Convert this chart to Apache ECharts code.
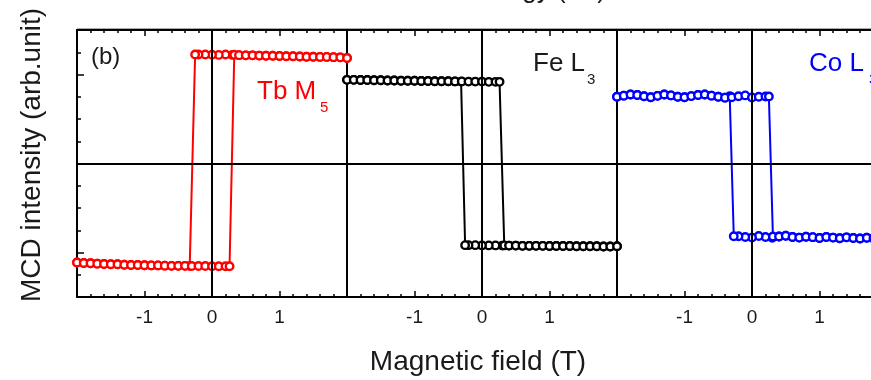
<!DOCTYPE html>
<html>
<head>
<meta charset="utf-8">
<script src="https://cdn.jsdelivr.net/npm/echarts@6/dist/echarts.min.js"></script>
<style>
html,body{margin:0;padding:0;background:#fff;}
#chart{width:871px;height:380px;}
</style>
</head>
<body>
<div id="chart"></div>
<script>
// Magnetic field grid (T)
const field = [-2.0,-1.9,-1.8,-1.7,-1.6,-1.5,-1.4,-1.3,-1.2,-1.1,-1.0,-0.9,-0.8,-0.7,-0.6,-0.5,-0.4,-0.3,-0.2,-0.1,0.0,0.1,0.2,0.3,0.4,0.5,0.6,0.7,0.8,0.9,1.0,1.1,1.2,1.3,1.4,1.5,1.6,1.7,1.8,1.9,2.0];
const xTicks = [-1, 0, 1];

// Tb M5: branch reached at positive saturation / negative saturation
const tbPos = [null,null,null,null,null,null,null,null,null,null,null,null,null,null,null,null,null,null,
  4.90,4.90,4.89,4.88,4.90,4.88,4.87,4.86,4.86,4.85,4.84,4.84,4.83,4.82,4.82,4.81,4.80,4.80,4.79,4.79,4.78,4.77,4.74];
const tbNeg = [-4.45,-4.47,-4.48,-4.50,-4.52,-4.53,-4.53,-4.55,-4.56,-4.56,-4.57,-4.58,-4.58,-4.59,-4.60,-4.60,-4.60,-4.61,-4.61,-4.61,-4.62,-4.62,-4.62,
  null,null,null,null,null,null,null,null,null,null,null,null,null,null,null,null,null,null];
const tbSwitchDown = [[-0.25, 4.90], [-0.33, -4.61]];
const tbSwitchUp = [[0.26, -4.62], [0.33, 4.89]];

// Fe L3
const fePos = [null,null,null,null,null,null,null,null,null,null,null,null,null,null,null,null,null,null,
  -3.67,-3.67,-3.68,-3.68,-3.68,-3.69,-3.69,-3.69,-3.70,-3.70,-3.70,-3.70,-3.71,-3.71,-3.71,-3.71,-3.72,-3.72,-3.72,-3.72,-3.73,-3.73,-3.72];
const feNeg = [3.76,3.76,3.75,3.75,3.74,3.74,3.73,3.73,3.72,3.72,3.72,3.71,3.71,3.70,3.70,3.70,3.69,3.69,3.68,3.68,3.68,3.67,3.67,
  null,null,null,null,null,null,null,null,null,null,null,null,null,null,null,null,null,null];
const feSwitchDown = [[-0.25, -3.67], [-0.31, 3.68]];
const feSwitchUp = [[0.26, 3.67], [0.33, -3.68]];

// Co L3
const coPos = [null,null,null,null,null,null,null,null,null,null,null,null,null,null,null,null,null,null,
  -3.27,-3.30,-3.33,-3.26,-3.30,-3.34,-3.28,-3.25,-3.30,-3.33,-3.29,-3.31,-3.35,-3.30,-3.33,-3.36,-3.32,-3.35,-3.37,-3.34,-3.36,-3.38,-3.36];
const coNeg = [3.00,3.05,3.10,3.08,3.02,2.98,3.04,3.10,3.06,3.00,2.98,3.03,3.08,3.10,3.05,3.00,2.96,2.98,3.02,3.06,2.97,3.00,3.01,
  null,null,null,null,null,null,null,null,null,null,null,null,null,null,null,null,null,null];
const coSwitchDown = [[-0.27, -3.27], [-0.33, 3.02]];
const coSwitchUp = [[0.25, 3.01], [0.31, -3.28]];

const panelNames = ['Tb M5', 'Fe L3', 'Co L3'];
const panelColors = ['#ff0000', '#000000', '#0000ff'];

function loop(pos, neg, swDown, swUp) {
  const pts = [];
  for (let i = field.length - 1; i >= 0; i--) if (pos[i] !== null && field[i] > swDown[0][0]) pts.push([field[i], pos[i]]);
  pts.push(swDown[0], swDown[1]);
  for (let i = field.length - 1; i >= 0; i--) if (neg[i] !== null && field[i] < swDown[1][0]) pts.push([field[i], neg[i]]);
  for (let i = 0; i < field.length; i++) if (neg[i] !== null && field[i] < swUp[0][0]) pts.push([field[i], neg[i]]);
  pts.push(swUp[0], swUp[1]);
  for (let i = 0; i < field.length; i++) if (pos[i] !== null && field[i] > swUp[1][0]) pts.push([field[i], pos[i]]);
  return pts;
}

const loops = [
  loop(tbPos, tbNeg, tbSwitchDown, tbSwitchUp),
  loop(fePos, feNeg, feSwitchDown, feSwitchUp),
  loop(coPos, coNeg, coSwitchDown, coSwitchUp)
];

const FONT = 'Liberation Sans, Arial, Helvetica, sans-serif';
const TXT = '#1a1a1a';
const frameLine = {onZero: false, lineStyle: {color: '#000', width: 2}};

const grids = [], xAxes = [], yAxes = [], series = [];
for (let i = 0; i < 3; i++) {
  grids.push({left: 77 + 270 * i, top: 30, width: 270, height: 267, outerBoundsMode: 'none', containLabel: false});
  const xBase = {
    gridIndex: i, type: 'value', min: -2, max: 2, interval: 1,
    axisLine: frameLine,
    axisTick: {inside: true, length: 6, lineStyle: {color: '#000', width: 1.5}},
    minorTick: {show: true, splitNumber: 5, length: 3, lineStyle: {color: '#000', width: 1.5}},
    splitLine: {show: false}, minorSplitLine: {show: false}
  };
  xAxes.push(Object.assign({}, xBase, {position: 'bottom',
    axisLabel: {customValues: xTicks, fontSize: 19, color: TXT, fontFamily: FONT, margin: 11}}));
  xAxes.push(Object.assign({}, xBase, {position: 'top', axisLabel: {show: false}}));
  yAxes.push({gridIndex: i, type: 'value', min: -6, max: 6, interval: 1, position: 'left',
    axisLine: frameLine,
    axisTick: {show: i === 0, inside: true, length: 4, lineStyle: {color: '#000', width: 1.5}},
    axisLabel: {show: false}, splitLine: {show: false}});
  yAxes.push({gridIndex: i, type: 'value', min: -6, max: 6, interval: 1, position: 'right',
    axisLine: frameLine, axisTick: {show: false}, axisLabel: {show: false}, splitLine: {show: false}});
  series.push({
    name: panelNames[i], type: 'line', xAxisIndex: 2 * i, yAxisIndex: 2 * i,
    data: loops[i], symbol: 'circle', symbolSize: 7.5, showAllSymbol: true,
    itemStyle: {color: '#fff', borderColor: panelColors[i], borderWidth: 2.4},
    lineStyle: {color: panelColors[i], width: 2},
    emphasis: {disabled: true}, clip: true, z: 2,
    markLine: {silent: true, symbol: ['none', 'none'], label: {show: false},
      lineStyle: {color: '#000', width: 2, type: 'solid'},
      emphasis: {disabled: true},
      data: [{xAxis: 0}, {yAxis: 0}], z: 5}
  });
}
// major y ticks on the left axis of panel (b)
yAxes.push({gridIndex: 0, type: 'value', min: -6, max: 6, position: 'left',
  axisLine: {show: false, onZero: false},
  axisTick: {inside: true, length: 7, customValues: [-4, 0, 4], lineStyle: {color: '#000', width: 1.5}},
  axisLabel: {show: false}, splitLine: {show: false}});

const chart = echarts.init(document.getElementById('chart'), null, {renderer: 'canvas'});
chart.setOption({
  animation: false,
  backgroundColor: '#fff',
  grid: grids, xAxis: xAxes, yAxis: yAxes, series: series,
  graphic: [
    {type: 'line', shape: {x1: 77, y1: 28.5, x2: 871, y2: 28.5}, style: {stroke: '#aaa', lineWidth: 1}, z: 0},
    {type: 'text', x: 606, y: 4, style: {text: 'Photon energy (eV)', fontSize: 26, fontFamily: FONT, fill: TXT, align: 'right', verticalAlign: 'bottom'}},
    {type: 'text', x: 32, y: 155, rotation: Math.PI / 2, style: {text: 'MCD intensity (arb.unit)', fontSize: 28, fontFamily: FONT, fill: TXT, align: 'center', verticalAlign: 'middle'}},
    {type: 'text', x: 478, y: 362, style: {text: 'Magnetic field (T)', fontSize: 28, fontFamily: FONT, fill: TXT, align: 'center', verticalAlign: 'middle'}},
    {type: 'text', x: 91, y: 57, style: {text: '(b)', fontSize: 24, fontFamily: FONT, fill: TXT, align: 'left', verticalAlign: 'middle'}},
    {type: 'text', x: 257, y: 92, style: {text: 'Tb M', fontSize: 26, fontFamily: FONT, fill: '#ff0000', align: 'left', verticalAlign: 'middle'}},
    {type: 'text', x: 320, y: 108, style: {text: '5', fontSize: 15, fontFamily: FONT, fill: '#ff0000', align: 'left', verticalAlign: 'middle'}},
    {type: 'text', x: 533, y: 64, style: {text: 'Fe L', fontSize: 26, fontFamily: FONT, fill: TXT, align: 'left', verticalAlign: 'middle'}},
    {type: 'text', x: 587, y: 80, style: {text: '3', fontSize: 15, fontFamily: FONT, fill: TXT, align: 'left', verticalAlign: 'middle'}},
    {type: 'text', x: 809, y: 64, style: {text: 'Co L', fontSize: 26, fontFamily: FONT, fill: '#0000ff', align: 'left', verticalAlign: 'middle'}},
    {type: 'text', x: 869, y: 80, style: {text: '3', fontSize: 15, fontFamily: FONT, fill: '#0000ff', align: 'left', verticalAlign: 'middle'}}
  ]
});
</script>
</body>
</html>
